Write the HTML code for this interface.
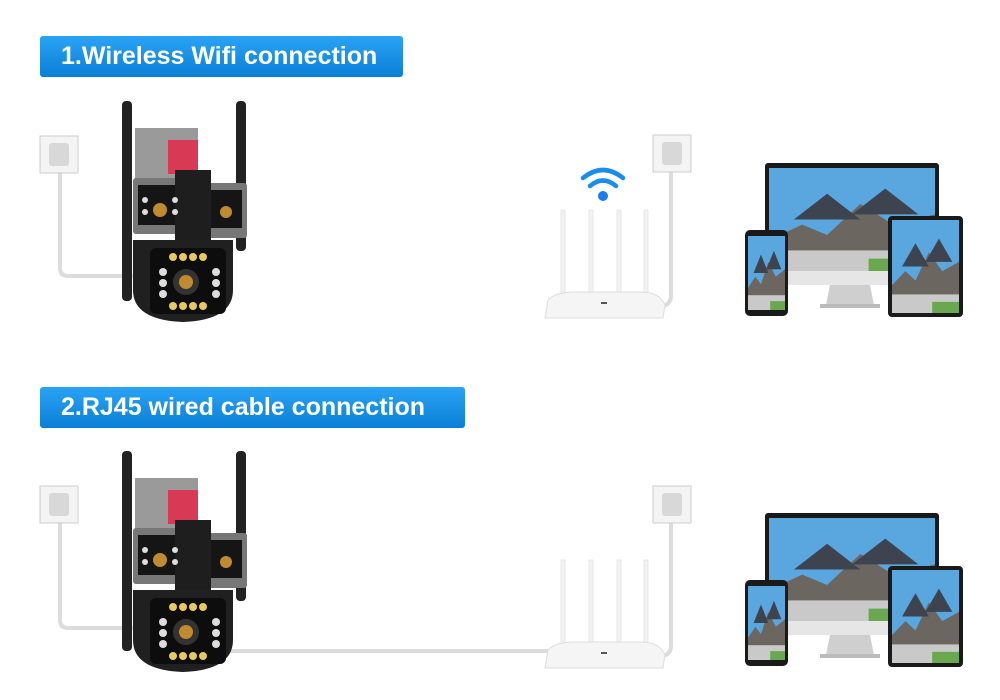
<!DOCTYPE html>
<html><head><style>
html,body{margin:0;padding:0;background:#fff;width:1000px;height:700px;overflow:hidden;position:relative}
.b{position:absolute;left:40px;height:41px;border-radius:3px;background:linear-gradient(#2aa3f5,#0a7fd6);color:#fff;font:bold 25px "Liberation Sans",sans-serif;line-height:41px;padding-left:21px;box-sizing:border-box}
</style></head><body>
<svg width="1000" height="700" style="position:absolute;left:0;top:0" xmlns="http://www.w3.org/2000/svg">
<defs>
<g id="sock"><rect x="0" y="0" width="38" height="37" fill="#f4f4f4" stroke="#ccc"/><rect x="9" y="7" width="20" height="23" rx="3" fill="#d8d8d8"/></g>
<g id="cam">
<rect x="122" y="101" width="10" height="200" rx="4" fill="#222"/>
<rect x="236" y="101" width="10" height="150" rx="4" fill="#222"/>
<rect x="135" y="128" width="63" height="62" fill="#9a9a9a"/>
<rect x="168" y="140" width="30" height="34" fill="#d83a55"/>
<rect x="133" y="178" width="50" height="56" rx="3" fill="#777"/>
<rect x="138" y="185" width="40" height="40" fill="#151515"/>
<rect x="205" y="183" width="42" height="55" rx="3" fill="#777"/>
<rect x="210" y="190" width="32" height="38" fill="#151515"/>
<rect x="175" y="170" width="36" height="72" fill="#1e1e1e"/>
<path d="M133 240 H233 V290 Q233 320 183 322 Q133 320 133 290 Z" fill="#202020"/>
<rect x="150" y="248" width="76" height="66" rx="6" fill="#0d0d0d"/>
<circle cx="186" cy="282" r="13" fill="#333"/><circle cx="186" cy="282" r="7" fill="#c08a30"/>
<circle cx="160" cy="210" r="7" fill="#c08a30"/><circle cx="226" cy="212" r="6" fill="#c08a30"/>
<g fill="#e8c860"><circle cx="173" cy="257" r="4"/><circle cx="183" cy="257" r="4"/><circle cx="193" cy="257" r="4"/><circle cx="203" cy="257" r="4"/><circle cx="173" cy="306" r="4"/><circle cx="183" cy="306" r="4"/><circle cx="193" cy="306" r="4"/><circle cx="203" cy="306" r="4"/></g>
<g fill="#ddd"><circle cx="163" cy="272" r="4"/><circle cx="163" cy="283" r="4"/><circle cx="163" cy="294" r="4"/><circle cx="216" cy="272" r="4"/><circle cx="216" cy="283" r="4"/><circle cx="216" cy="294" r="4"/><circle cx="145" cy="200" r="3"/><circle cx="145" cy="212" r="3"/><circle cx="175" cy="200" r="3"/><circle cx="175" cy="212" r="3"/></g>
</g>
<g id="router">
<g fill="#f2f2f2" stroke="#ddd" stroke-width="0.6"><rect x="561" y="210" width="4" height="90"/><rect x="589" y="210" width="4" height="90"/><rect x="617" y="210" width="4" height="90"/><rect x="644" y="210" width="4" height="90"/></g>
<path d="M548 300 Q555 292 575 292 H640 Q660 292 665 305 L663 318 H545 Z" fill="#f5f5f5" stroke="#ddd"/>
<rect x="601" y="302" width="6" height="2" fill="#555"/>
</g>
<g id="scr">
<rect width="100" height="100" fill="#5aa7df"/><path d="M0 70 L20 55 L35 65 L55 35 L75 55 L100 45 V100 H0Z" fill="#6b6660"/><path d="M15 50 L35 25 L55 50Z M50 45 L70 20 L90 45Z" fill="#3d4450"/><rect y="80" width="100" height="20" fill="#c9c9c9"/><rect x="60" y="88" width="40" height="12" fill="#6aa84f"/>
</g>
<g id="dev">
<rect x="765" y="163" width="174" height="120" rx="3" fill="#1a1a1a"/>
<svg x="769" y="168" width="166" height="103" viewBox="0 0 100 100" preserveAspectRatio="none"><use href="#scr"/></svg>
<rect x="765" y="271" width="174" height="14" fill="#e6e6e6"/>
<path d="M830 285 H870 L874 305 H826Z" fill="#cfcfcf"/><rect x="820" y="304" width="60" height="4" fill="#bbb"/>
<rect x="745" y="230" width="43" height="86" rx="5" fill="#1a1a1a"/>
<svg x="748" y="236" width="37" height="74" viewBox="0 0 100 100" preserveAspectRatio="none"><use href="#scr"/></svg>
<rect x="888" y="216" width="75" height="101" rx="4" fill="#1a1a1a"/>
<svg x="892" y="220" width="67" height="93" viewBox="0 0 100 100" preserveAspectRatio="none"><use href="#scr"/></svg>
</g>
</defs>
<g fill="none" stroke="#dcdcdc" stroke-width="4">
<path d="M60 172 V268 Q60 276 68 276 H135"/>
<path d="M671 172 V295 Q671 305 662 306"/>
<path d="M60 523 V620 Q60 628 68 628 H135"/>
<path d="M671 523 V645 Q671 655 662 656"/>
<path d="M225 651 H548"/>
</g>
<use href="#sock" x="40" y="136"/><use href="#sock" x="653" y="135"/>
<use href="#sock" x="40" y="486"/><use href="#sock" x="653" y="486"/>
<use href="#cam"/><use href="#cam" y="350"/>
<use href="#router"/><use href="#router" y="350"/>
<use href="#dev"/><use href="#dev" y="350"/>
<g fill="none" stroke="#1a8cf0" stroke-width="4.5" stroke-linecap="round">
<path d="M583 178 Q603 162 623 178"/><path d="M590 186 Q603 175 616 186"/>
</g>
<circle cx="603" cy="196" r="5" fill="#1a7cf0"/>
</svg>
<div class="b" style="top:36px;width:363px">1.Wireless Wifi connection</div>
<div class="b" style="top:387px;width:425px">2.RJ45 wired cable connection</div>
</body></html>
